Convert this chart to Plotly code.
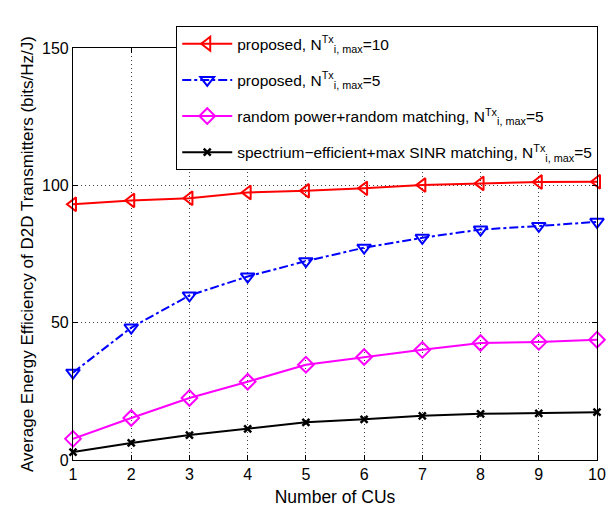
import plotly.graph_objects as go

cus = [1, 2, 3, 4, 5, 6, 7, 8, 9, 10]
proposed_10 = [93.1, 94.5, 95.3, 97.4, 98.0, 98.9, 100.1, 100.7, 101.2, 101.3]
proposed_5 = [31.8, 48.2, 59.9, 66.8, 72.4, 77.3, 80.9, 83.9, 85.2, 86.7]
random_5 = [7.7, 15.3, 22.6, 28.5, 34.7, 37.5, 40.1, 42.6, 43.0, 43.8]
spectrum_5 = [2.9, 6.2, 9.1, 11.3, 13.7, 14.8, 16.1, 16.8, 17.0, 17.4]

names = [
    "proposed, N<sup>Tx</sup><sub>i, max</sub>=10",
    "proposed, N<sup>Tx</sup><sub>i, max</sub>=5",
    "random power+random matching, N<sup>Tx</sup><sub>i, max</sub>=5",
    "spectrium\u2212efficient+max SINR matching, N<sup>Tx</sup><sub>i, max</sub>=5",
]

FONT = "Liberation Sans, Arial"

fig = go.Figure()
fig.add_trace(go.Scatter(x=cus, y=proposed_10, name=names[0], mode="lines+markers", legendgroup="a",
                         cliponaxis=False,
                         line=dict(color="#ff0000", width=2),
                         marker=dict(symbol="triangle-left-open", size=12, color="#ff0000", line=dict(width=2))))
fig.add_trace(go.Scatter(x=cus, y=proposed_5, name=names[1], mode="lines+markers", legendgroup="b",
                         cliponaxis=False,
                         line=dict(color="#0000ff", width=2, dash="dashdot"),
                         marker=dict(symbol="triangle-down-open", size=12, color="#0000ff", line=dict(width=2))))
fig.add_trace(go.Scatter(x=cus, y=random_5, name=names[2], mode="lines+markers", legendgroup="c",
                         cliponaxis=False,
                         line=dict(color="#ff00ff", width=2),
                         marker=dict(symbol="diamond-open", size=12, color="#ff00ff", line=dict(width=2))))
fig.add_trace(go.Scatter(x=cus, y=spectrum_5, name=names[3], mode="lines+markers", legendgroup="d",
                         cliponaxis=False,
                         line=dict(color="#000000", width=2),
                         marker=dict(symbol="x-thin", size=7, color="#000000", line=dict(width=2.5, color="#000000"))))

axis_common = dict(
    showline=True, linecolor="black", linewidth=1.2, mirror="ticks",
    ticks="inside", ticklen=5, tickcolor="black",
    showgrid=True, gridcolor="rgba(0,0,0,0.75)", griddash="1px,3px", gridwidth=1,
    zeroline=False, automargin=False,
    tickfont=dict(family=FONT, size=16, color="black"),
)

fig.update_xaxes(range=[1, 10], dtick=1, tick0=1,
                 title=dict(text="Number of CUs", font=dict(family=FONT, size=17.5, color="black"), standoff=8),
                 **axis_common)
fig.update_yaxes(range=[0, 150], dtick=50,
                 title=dict(text="Average Energy Efficiency of D2D Transmitters (bits/Hz/J)",
                            font=dict(family=FONT, size=17, color="black"), standoff=4),
                 **axis_common)

fig.update_layout(
    width=613, height=507,
    margin=dict(l=73, r=16, t=48, b=47),
    paper_bgcolor="white", plot_bgcolor="white",
    font=dict(family=FONT, size=15, color="black"),
    showlegend=True,
    legend=dict(x=0.197, y=1.053, xanchor="left", yanchor="top",
                bgcolor="white", bordercolor="black", borderwidth=1,
                itemwidth=50, font=dict(family=FONT, size=15.5, color="black"),
                tracegroupgap=13),
)

# remove the page's default body margin so the figure fills the window exactly
fig.write_html("out.html",
               config={"displayModeBar": False},
               post_script="document.body.style.margin='0';document.body.style.overflow='hidden';")
